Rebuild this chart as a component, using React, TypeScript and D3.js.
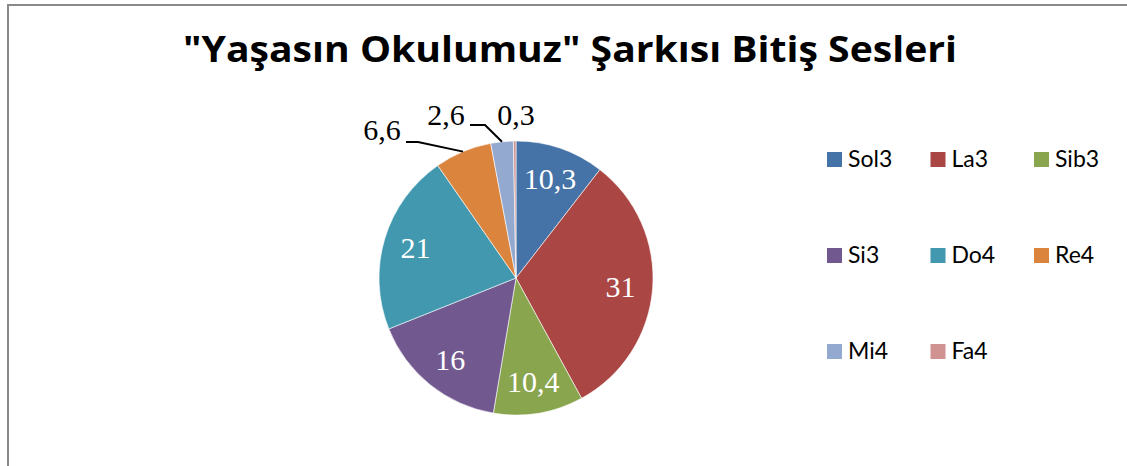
import React from "react";
import * as d3 from "d3";

const categories = ["Sol3", "La3", "Sib3", "Si3", "Do4", "Re4", "Mi4", "Fa4"];
const values = [10.3, 31, 10.4, 16, 21, 6.6, 2.6, 0.3];
const valueLabels = ["10,3", "31", "10,4", "16", "21", "6,6", "2,6", "0,3"];
const colors = ["#4572A7", "#AA4643", "#89A54E", "#71588F", "#4198AF", "#DB843D", "#93A9CF", "#D19392"];
const title = "\"Yaşasın Okulumuz\" Şarkısı Bitiş Sesleri";

// layout of outside labels (relative to pie centre): label anchor and elbow
const outsideLayout: Record<number, { lx: number; ly: number; ex: number; ey: number; line: boolean }> = {
  5: { lx: -134, ly: -138, ex: -98, ey: -136, line: true },
  6: { lx: -70, ly: -153, ex: -31, ey: -153, line: true },
  7: { lx: 0, ly: -153, ex: 0, ey: 0, line: false },
};

const W = 1127;
const H = 466;
const cx = 516;
const cy = 278;
const R = 137;

export default function App() {
  const pie = d3.pie<number>().sort(null).value((d) => d);
  const arcs = pie(values);
  const arc = d3.arc<d3.PieArcDatum<number>>().innerRadius(0).outerRadius(R);
  const labelArc = d3.arc<d3.PieArcDatum<number>>().innerRadius(R * 0.765).outerRadius(R * 0.765);
  const edgeArc = d3.arc<d3.PieArcDatum<number>>().innerRadius(R).outerRadius(R);

  const legendX = d3.scalePoint<number>().domain([0, 1, 2]).range([827, 1034]);
  const legendY = d3.scalePoint<number>().domain([0, 1, 2]).range([152, 344]);

  return (
    <svg width={W} height={H} style={{ position: "absolute", left: 0, top: 0, background: "#fff" }}>
      <rect x={8} y={5} width={1300} height={700} fill="#fff" stroke="#898989" strokeWidth={2} />
      <text
        x={183}
        y={62}
        textLength={774}
        lengthAdjust="spacingAndGlyphs"
        fontFamily="'Open Sans', Lato, sans-serif"
        fontWeight="bold"
        fontSize={36}
        fill="#000"
      >
        {title}
      </text>
      <g transform={`translate(${cx},${cy})`}>
        {arcs.map((a, i) => (
          <path key={categories[i]} d={arc(a) || ""} fill={colors[i]} stroke="#fff" strokeWidth={0.6} />
        ))}
        {arcs.map((a, i) => {
          const o = outsideLayout[i];
          if (o) {
            const [px, py] = edgeArc.centroid(a);
            return (
              <g key={"l" + i}>
                {o.line && (
                  <polyline
                    points={`${o.lx + 24},${o.ey} ${o.ex},${o.ey} ${px},${py}`}
                    fill="none"
                    stroke="#000"
                    strokeWidth={2}
                  />
                )}
                <text
                  x={o.lx}
                  y={o.ly}
                  textAnchor="middle"
                  fontFamily="'Liberation Serif', 'Times New Roman', serif"
                  fontSize={30}
                  fill="#000"
                >
                  {valueLabels[i]}
                </text>
              </g>
            );
          }
          const [x, y] = labelArc.centroid(a);
          return (
            <text
              key={"l" + i}
              x={x}
              y={y}
              dy="0.35em"
              textAnchor="middle"
              fontFamily="'Liberation Serif', 'Times New Roman', serif"
              fontSize={30}
              fill="#fff"
            >
              {valueLabels[i]}
            </text>
          );
        })}
      </g>
      {categories.map((c, i) => {
        const col = i % 3;
        const row = Math.floor(i / 3);
        const x = legendX(col)!;
        const y = legendY(row)!;
        return (
          <g key={"lg" + c}>
            <rect x={x} y={y} width={15} height={15} fill={colors[i]} />
            <text
              x={x + 21}
              y={y + 15}
              fontFamily="Lato, 'Open Sans', sans-serif"
              fontSize={23}
              fill="#000"
            >
              {c}
            </text>
          </g>
        );
      })}
    </svg>
  );
}
